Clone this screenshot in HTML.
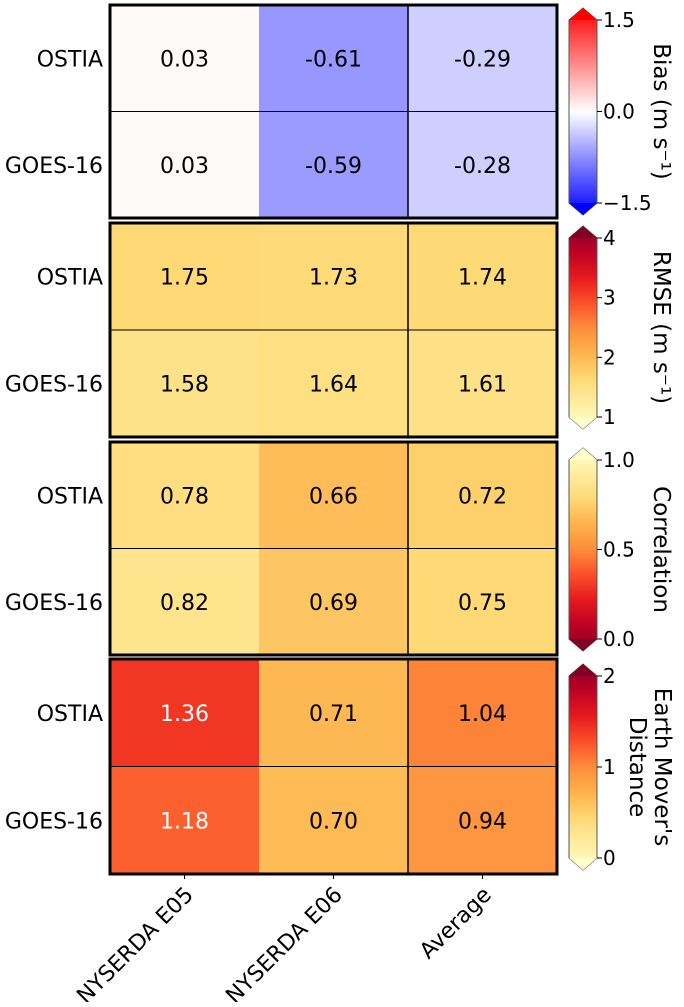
<!DOCTYPE html>
<html><head><meta charset="utf-8"><style>
body{margin:0;background:#fff;}
svg text{font-family:"DejaVu Sans","Liberation Sans",sans-serif;}
</style></head><body>
<svg id="fig" width="684" height="1002" xmlns="http://www.w3.org/2000/svg"></svg>
<script>
const columns = ["NYSERDA E05","NYSERDA E06","Average"];
const rowsLabels = ["OSTIA","GOES-16"];
const biasVals = [[0.03,-0.61,-0.29],[0.03,-0.59,-0.28]];
const rmseVals = [[1.75,1.73,1.74],[1.58,1.64,1.61]];
const corrVals = [[0.78,0.66,0.72],[0.82,0.69,0.75]];
const emdVals = [[1.36,0.71,1.04],[1.18,0.70,0.94]];
const biasTicks = [1.5,0.0,-1.5];
const rmseTicks = [4,3,2,1];
const corrTicks = [1.0,0.5,0.0];
const emdTicks = [2,1,0];

const NS="http://www.w3.org/2000/svg";
const svg=document.getElementById('fig');
function mk(tag,attrs,parent){const e=document.createElementNS(NS,tag);for(const k in attrs)e.setAttribute(k,attrs[k]);(parent||svg).appendChild(e);return e;}
function hex(h){return [parseInt(h.substr(1,2),16),parseInt(h.substr(3,2),16),parseInt(h.substr(5,2),16)];}
const ylorrd=["#ffffcc","#ffeda0","#fed976","#feb24c","#fd8d3c","#fc4e2a","#e31a1c","#bd0026","#800026"].map(hex);
function cmapYOR(t){t=Math.max(0,Math.min(1,t));const s=t*8;const i=Math.min(7,Math.floor(s));const f=s-i;const a=ylorrd[i],b=ylorrd[i+1];return `rgb(${a.map((v,k)=>Math.round(v+(b[k]-v)*f)).join(',')})`;}
function cmapBWR(t){t=Math.max(0,Math.min(1,t));if(t<0.5){const f=t/0.5;return `rgb(${Math.round(255*f)},${Math.round(255*f)},255)`;}const f=(1-t)/0.5;return `rgb(255,${Math.round(255*f)},${Math.round(255*f)})`;}

const X0=110,CW=149;
const panels=[
 {name:'bias',vals:biasVals,y0:5,y1:218,cmap:v=>cmapBWR((v+1.5)/3),ticks:biasTicks,tmin:-1.5,tmax:1.5,cb0:20,cb1:203,fmt:v=>v.toFixed(2),tfmt:v=>v.toFixed(1).replace('-','−'),label:['Bias (m s⁻¹)'],grad:t=>cmapBWR(t)},
 {name:'rmse',vals:rmseVals,y0:223,y1:437,cmap:v=>cmapYOR((v-1)/3),ticks:rmseTicks,tmin:1,tmax:4,cb0:238,cb1:417,fmt:v=>v.toFixed(2),tfmt:v=>String(v),label:['RMSE (m s⁻¹)'],grad:t=>cmapYOR(t)},
 {name:'correlation',vals:corrVals,y0:442,y1:655,cmap:v=>cmapYOR(1-v),ticks:corrTicks,tmin:0,tmax:1,cb0:460,cb1:639,fmt:v=>v.toFixed(2),tfmt:v=>v.toFixed(1),label:['Correlation'],grad:t=>cmapYOR(1-t)},
 {name:'emd',vals:emdVals,y0:659,y1:874,cmap:v=>cmapYOR(v/2),ticks:emdTicks,tmin:0,tmax:2,cb0:676,cb1:858,fmt:v=>v.toFixed(2),tfmt:v=>String(v),label:["Earth Mover's","Distance"],grad:t=>cmapYOR(t)}
];
function lum(c){const m=c.match(/\d+/g).map(Number);return 0.299*m[0]+0.587*m[1]+0.114*m[2];}
const defs=mk('defs',{});
panels.forEach((p,pi)=>{
 const g=mk('g',{});
 
 
 const rh=(p.y1-p.y0)/2;
 p.vals.forEach((row,ri)=>row.forEach((v,ci)=>{
  const c=p.cmap(v);
  const r=mk('rect',{x:X0+ci*CW,y:p.y0+ri*rh,width:CW+0.5,height:rh+0.5,fill:c},g);
  
  
  const t=mk('text',{x:X0+ci*CW+CW/2,y:p.y0+ri*rh+rh/2+8,'text-anchor':'middle','font-size':22,fill:lum(c)<140?'#fff':'#000'},g);
  t.textContent=p.fmt(v);
  
  
 }));
 mk('line',{x1:X0,x2:X0+3*CW,y1:p.y0+rh,y2:p.y0+rh,stroke:'#000','stroke-width':1},g);
 mk('line',{x1:X0+2*CW,x2:X0+2*CW,y1:p.y0,y2:p.y1,stroke:'#000','stroke-width':1.5},g);
 mk('rect',{x:X0,y:p.y0,width:3*CW,height:p.y1-p.y0,fill:'none',stroke:'#000','stroke-width':3},g);
 rowsLabels.forEach((l,ri)=>{
  const t=mk('text',{x:103,y:p.y0+ri*rh+rh/2+8,'text-anchor':'end','font-size':22,fill:'#000'},g);
  t.textContent=l;
  
  
 });
 const cb=mk('g',{});
 
 
 const gid='grad'+pi;
 const lg=mk('linearGradient',{id:gid,x1:0,y1:1,x2:0,y2:0},defs);
 for(let i=0;i<=20;i++)mk('stop',{offset:i/20,'stop-color':p.grad(i/20)},lg);
 const bx=569,bw=28,ext=12;
 mk('path',{d:`M${bx},${p.cb0} L${bx+bw/2},${p.cb0-ext} L${bx+bw},${p.cb0} L${bx+bw},${p.cb1} L${bx+bw/2},${p.cb1+ext} L${bx},${p.cb1} Z`,fill:`url(#${gid})`,stroke:'#555','stroke-width':1},cb);
 mk('path',{d:`M${bx},${p.cb0} L${bx+bw/2},${p.cb0-ext} L${bx+bw},${p.cb0} Z`,fill:p.grad(1)},cb);
 mk('path',{d:`M${bx},${p.cb1} L${bx+bw/2},${p.cb1+ext} L${bx+bw},${p.cb1} Z`,fill:p.grad(0)},cb);
 p.ticks.forEach(tv=>{
  const y=p.cb1-(tv-p.tmin)/(p.tmax-p.tmin)*(p.cb1-p.cb0);
  mk('line',{x1:bx+bw,x2:bx+bw+5,y1:y,y2:y,stroke:'#000'},cb);
  const t=mk('text',{x:bx+bw+6,y:y+7,'font-size':20,fill:'#000'},cb);
  t.textContent=p.tfmt(tv);
  
  
 });
 const cy=(p.cb0+p.cb1)/2;
 p.label.forEach((l,li)=>{
  const lx=p.label.length>1?(li===0?655:630):654;
  const t=mk('text',{x:lx,y:cy,'text-anchor':'middle','font-size':23,fill:'#000',transform:`rotate(90 ${lx} ${cy})`},cb);
  t.textContent=l;
  
  
 });
});
columns.forEach((c,ci)=>{
 const cx=X0+ci*CW+CW/2;
 mk('line',{x1:cx,x2:cx,y1:874,y2:879,stroke:'#000'});
 const t=mk('text',{x:cx+10,y:896,'text-anchor':'end','font-size':22,fill:'#000',transform:`rotate(-45 ${cx+10} 896)`});
 t.textContent=c;
 
 
});
</script>
</body></html>
